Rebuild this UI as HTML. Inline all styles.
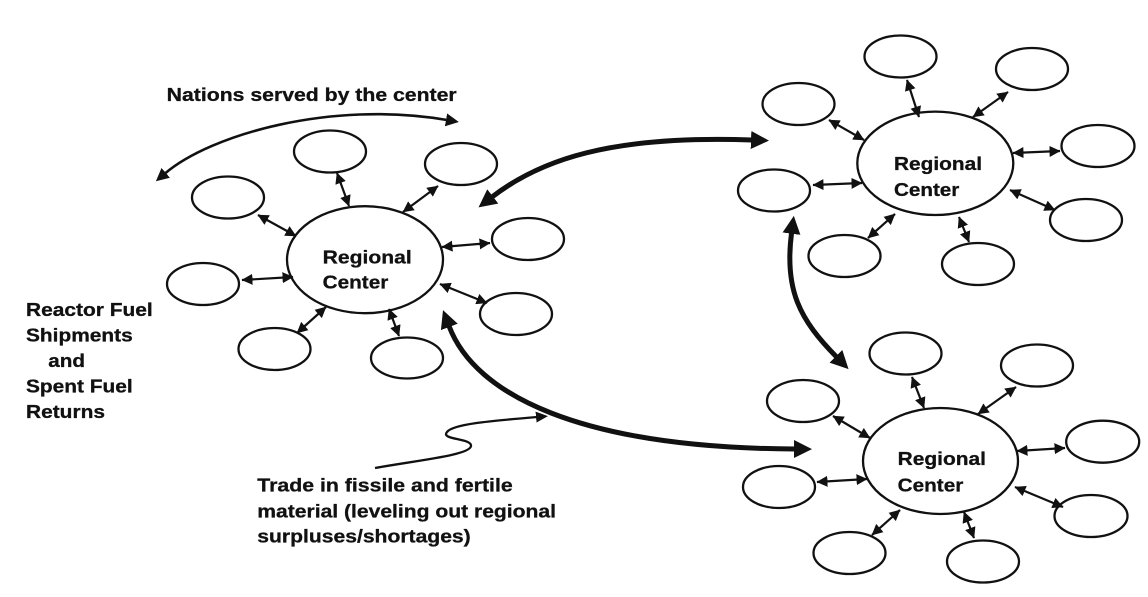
<!DOCTYPE html>
<html>
<head>
<meta charset="utf-8">
<style>
  html, body { margin: 0; padding: 0; background: #fff; }
  body { width: 1148px; height: 597px; overflow: hidden; }
  svg { display: block; }
  text { font-family: "Liberation Sans", Arial, sans-serif; font-weight: bold; font-size: 18.8px; fill: #111; stroke: #111; stroke-width: 0.3px; }
</style>
</head>
<body>
<svg width="1148" height="597" viewBox="0 0 1148 597" xmlns="http://www.w3.org/2000/svg">
  <defs>
    <marker id="s" markerUnits="userSpaceOnUse" markerWidth="11" markerHeight="11" refX="10.5" refY="5.5" orient="auto-start-reverse">
      <path d="M0,0 L11,5.5 L0,11 z" fill="#111"/>
    </marker>
    <marker id="t" markerUnits="userSpaceOnUse" markerWidth="18" markerHeight="18" refX="1" refY="9" orient="auto-start-reverse">
      <path d="M0,0 L18,9 L0,18 z" fill="#111"/>
    </marker>
    <marker id="n" markerUnits="userSpaceOnUse" markerWidth="13" markerHeight="13" refX="1" refY="6.5" orient="auto-start-reverse">
      <path d="M0,0 L13,6.5 L0,13 z" fill="#111"/>
    </marker>
    <marker id="q" markerUnits="userSpaceOnUse" markerWidth="12" markerHeight="11" refX="1" refY="5.5" orient="auto">
      <path d="M0,0 L12,5.5 L0,11 z" fill="#111"/>
    </marker>
  </defs>

  <rect width="1148" height="597" fill="#fff"/>

  <!-- Ellipses -->
  <g fill="none" stroke="#111" stroke-width="2.3">
    <!-- Left cluster -->
    <ellipse cx="365" cy="259.7" rx="78" ry="53.5"/>
    <ellipse cx="330" cy="151.5" rx="36" ry="21"/>
    <ellipse cx="461" cy="164" rx="36" ry="21"/>
    <ellipse cx="228" cy="197.5" rx="36" ry="21"/>
    <ellipse cx="528" cy="239" rx="36" ry="21"/>
    <ellipse cx="203" cy="284" rx="36" ry="21"/>
    <ellipse cx="516" cy="314" rx="36" ry="21"/>
    <ellipse cx="274.5" cy="349" rx="36" ry="21"/>
    <ellipse cx="407" cy="358" rx="36" ry="20.5"/>
    <!-- Top-right cluster -->
    <ellipse cx="935.3" cy="163.3" rx="78" ry="51.7"/>
    <ellipse cx="900.5" cy="56.5" rx="36" ry="21"/>
    <ellipse cx="1032" cy="69" rx="36" ry="21"/>
    <ellipse cx="798.5" cy="104" rx="36" ry="21"/>
    <ellipse cx="1098" cy="146" rx="36.5" ry="21"/>
    <ellipse cx="774" cy="190.5" rx="36" ry="21"/>
    <ellipse cx="1086" cy="220" rx="36" ry="21"/>
    <ellipse cx="844.5" cy="256" rx="36" ry="21"/>
    <ellipse cx="978" cy="264" rx="36" ry="21"/>
    <!-- Bottom-right cluster -->
    <ellipse cx="940.5" cy="461" rx="77.5" ry="53"/>
    <ellipse cx="905.5" cy="353.5" rx="36" ry="21"/>
    <ellipse cx="1037" cy="365.5" rx="36" ry="21"/>
    <ellipse cx="803" cy="401" rx="36" ry="21"/>
    <ellipse cx="1102.7" cy="441.7" rx="36.5" ry="21"/>
    <ellipse cx="779" cy="487" rx="36" ry="21"/>
    <ellipse cx="1091" cy="516" rx="36.5" ry="21"/>
    <ellipse cx="849.5" cy="553" rx="36" ry="21"/>
    <ellipse cx="983" cy="561.5" rx="36" ry="21"/>
  </g>

  <!-- Small double arrows -->
  <g stroke="#111" stroke-width="2.2" fill="none" marker-start="url(#s)" marker-end="url(#s)">
    <!-- left -->
    <line x1="337" y1="173" x2="349" y2="206"/>
    <line x1="438" y1="186" x2="403" y2="212"/>
    <line x1="258" y1="215" x2="296" y2="236"/>
    <line x1="442" y1="247" x2="490" y2="243"/>
    <line x1="242" y1="280" x2="293" y2="277"/>
    <line x1="440" y1="284" x2="487" y2="303"/>
    <line x1="297" y1="333" x2="326" y2="307"/>
    <line x1="389" y1="309" x2="399" y2="336"/>
    <!-- top-right -->
    <line x1="907" y1="80" x2="919" y2="117"/>
    <line x1="1008" y1="92" x2="973" y2="117"/>
    <line x1="829" y1="120" x2="864" y2="140"/>
    <line x1="1013" y1="153" x2="1060" y2="151"/>
    <line x1="813" y1="185" x2="862" y2="183"/>
    <line x1="1010" y1="190" x2="1055" y2="210"/>
    <line x1="868" y1="238" x2="895" y2="214"/>
    <line x1="959" y1="217" x2="969" y2="242"/>
    <!-- bottom-right -->
    <line x1="912" y1="377" x2="924" y2="408"/>
    <line x1="1016" y1="387" x2="978" y2="414"/>
    <line x1="833" y1="416" x2="870" y2="438"/>
    <line x1="1017" y1="451" x2="1065" y2="448"/>
    <line x1="817" y1="482" x2="867" y2="479"/>
    <line x1="1015" y1="487" x2="1063" y2="507"/>
    <line x1="872" y1="535" x2="900" y2="510"/>
    <line x1="964" y1="512" x2="974" y2="538"/>
  </g>

  <!-- Thick curved double arrows -->
  <g stroke="#111" stroke-width="5" fill="none" marker-start="url(#t)" marker-end="url(#t)">
    <path d="M492,197 C540,160 610,135 752,140"/>
    <path d="M449,326 C475,395 580,448 795,449"/>
    <path d="M791.6,232.7 C784,290 800,320 836.6,357"/>
  </g>

  <!-- Nations served arrow -->
  <path d="M165,173.5 C210,135 330,100 447,120" stroke="#111" stroke-width="2.6" fill="none" marker-start="url(#n)" marker-end="url(#n)"/>

  <!-- Squiggle pointer -->
  <path d="M375,468 C420,460 470,455 471,446 C472,438 440,440 447,432 C453,424 490,421 537,417" stroke="#111" stroke-width="2.3" fill="none" marker-end="url(#q)"/>

  <!-- Texts -->
  <text x="166.7" y="101" textLength="290" lengthAdjust="spacingAndGlyphs">Nations served by the center</text>

  <text x="322.7" y="263.3" textLength="89" lengthAdjust="spacingAndGlyphs">Regional</text>
  <text x="322.7" y="288.3" textLength="65.6" lengthAdjust="spacingAndGlyphs">Center</text>

  <text x="894" y="170" textLength="88" lengthAdjust="spacingAndGlyphs">Regional</text>
  <text x="894" y="196" textLength="65.3" lengthAdjust="spacingAndGlyphs">Center</text>

  <text x="897.7" y="465" textLength="88.3" lengthAdjust="spacingAndGlyphs">Regional</text>
  <text x="897.7" y="491.5" textLength="65.6" lengthAdjust="spacingAndGlyphs">Center</text>

  <text x="26" y="316" textLength="126.7" lengthAdjust="spacingAndGlyphs">Reactor Fuel</text>
  <text x="26" y="341.5" textLength="106.7" lengthAdjust="spacingAndGlyphs">Shipments</text>
  <text x="48.3" y="367" textLength="36.7" lengthAdjust="spacingAndGlyphs">and</text>
  <text x="26" y="392.5" textLength="106.7" lengthAdjust="spacingAndGlyphs">Spent Fuel</text>
  <text x="26" y="418" textLength="79" lengthAdjust="spacingAndGlyphs">Returns</text>

  <text x="257.3" y="491.7" textLength="255.4" lengthAdjust="spacingAndGlyphs">Trade in fissile and fertile</text>
  <text x="257.3" y="517.3" textLength="298.7" lengthAdjust="spacingAndGlyphs">material (leveling out regional</text>
  <text x="257.3" y="542.5" textLength="213.4" lengthAdjust="spacingAndGlyphs">surpluses/shortages)</text>
</svg>
</body>
</html>
